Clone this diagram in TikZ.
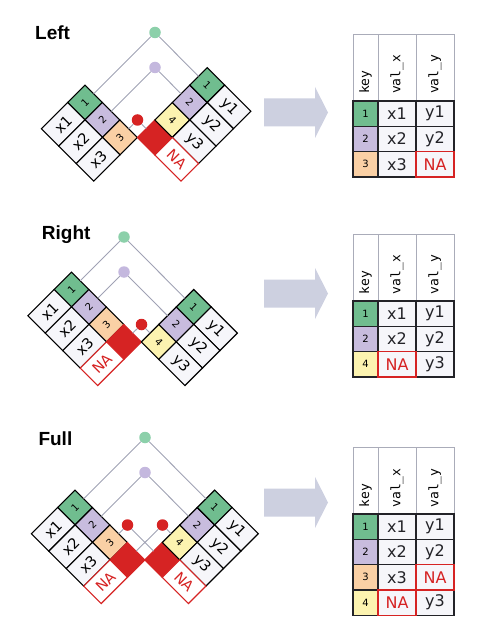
\documentclass[tikz,border=0pt]{standalone}
\usepackage{fontspec}
\setmainfont{DejaVu Sans}
\newfontfamily\labelfont{Liberation Sans}
\newfontfamily\headfont{DejaVu Sans Mono}
\usetikzlibrary{positioning}

\definecolor{kgreen}{RGB}{112,189,143}
\definecolor{kpurple}{RGB}{200,188,222}
\definecolor{korange}{RGB}{250,208,165}
\definecolor{kyellow}{RGB}{252,243,176}
\definecolor{nared}{RGB}{214,35,35}
\definecolor{dgreen}{RGB}{140,208,170}
\definecolor{dpurple}{RGB}{196,184,222}
\definecolor{linkgray}{RGB}{160,162,180}
\definecolor{arrowgray}{RGB}{205,208,224}
\definecolor{valfill}{RGB}{246,246,250}
\definecolor{headgray}{RGB}{170,172,185}
\definecolor{tabline}{RGB}{35,35,40}

\tikzset{
  cell/.style={draw=black, line width=1.1pt, inner sep=0pt, outer sep=0pt, fill=valfill},
  keysize/.style={minimum width=24.7pt, minimum height=24.7pt, font=\fontsize{10}{10}\selectfont},
  valsize/.style={minimum width=37pt, minimum height=24.7pt, font=\fontsize{14.5}{14.5}\selectfont},
  kcell/.style={cell, keysize, rotate=45},
  rkcell/.style={cell, keysize, rotate=-45},
  xcell/.style={cell, valsize, rotate=45},
  ycell/.style={cell, valsize, rotate=-45},
  nakey/.style={fill=nared, draw=nared},
  naval/.style={draw=nared, text=nared, fill=white},
  joindot/.style={circle, inner sep=0pt, minimum size=11.5pt},
  link/.style={draw=linkgray, line width=0.9pt},
  paneltitle/.style={font=\labelfont\bfseries\fontsize{19}{19}\selectfont, anchor=base west, inner sep=0pt},
  hcell/.style={draw=headgray, line width=0.9pt, fill=white, rotate=90, text width=53pt, inner xsep=7pt, inner ysep=0pt, outer sep=0pt, align=left, font=\headfont\fontsize{13}{13}\selectfont},
  tkey/.style={draw=tabline, line width=1.4pt, minimum width=25pt, minimum height=25.3pt, inner sep=0pt, outer sep=0pt, font=\fontsize{10}{10}\selectfont},
  tval/.style={tkey, minimum width=38pt, fill=valfill, font=\fontsize{16}{16}\selectfont},
  naline/.style={draw=nared, line width=1.4pt},
  bigarrow/.style={fill=arrowgray}
}

\begin{document}
\begin{tikzpicture}[x=1pt,y=-1pt]
\useasboundingbox (0,0) rectangle (497,631);

% ---- Left join
\node[paneltitle] (lab-a) at (35,40) {Left};
\node[kcell, fill=kgreen] (a-lk1) at (85,102.5) {1};
\node[kcell, fill=kpurple, anchor=north] (a-lk2) at (a-lk1.south) {2};
\node[kcell, fill=korange, anchor=north] (a-lk3) at (a-lk2.south) {3};
\node[xcell, anchor=east] (a-lx1) at (a-lk1.west) {x1};
\node[xcell, anchor=east] (a-lx2) at (a-lk2.west) {x2};
\node[xcell, anchor=east] (a-lx3) at (a-lk3.west) {x3};
\node[rkcell, nakey, anchor=south west] (a-rkna) at (a-lk3.south east) {};
\node[rkcell, fill=kyellow, anchor=south] (a-rk4) at (a-rkna.north) {4};
\node[rkcell, fill=kpurple, anchor=south] (a-rk2) at (a-rk4.north) {2};
\node[rkcell, fill=kgreen, anchor=south] (a-rk1) at (a-rk2.north) {1};
\node[ycell, anchor=west] (a-ry1) at (a-rk1.east) {y1};
\node[ycell, anchor=west] (a-ry2) at (a-rk2.east) {y2};
\node[ycell, anchor=west] (a-ry3) at (a-rk4.east) {y3};
\node[ycell, naval, anchor=west] (a-rna) at (a-rkna.east) {NA};
\node[joindot, fill=dgreen] (a-gd) at (155,32.5) {};
\node[joindot, fill=dpurple] (a-pd) at (155,67.5) {};
\node[joindot, fill=nared] (a-rd) at (137.5,120) {};
\draw[link] (a-gd) -- (a-lk1.east);
\draw[link] (a-gd) -- (a-rk1.west);
\draw[link] (a-pd) -- (a-lk2.east);
\draw[link] (a-pd) -- (a-rk2.west);
\draw[link] (a-rd) -- (a-lk3.east);
\draw[link] (a-rd) -- (a-rkna.west);

% ---- Right join
\node[paneltitle] (lab-b) at (41.7,239) {Right};
\node[kcell, fill=kgreen] (b-lk1) at (71.5,289.5) {1};
\node[kcell, fill=kpurple, anchor=north] (b-lk2) at (b-lk1.south) {2};
\node[kcell, fill=korange, anchor=north] (b-lk3) at (b-lk2.south) {3};
\node[kcell, nakey, anchor=north] (b-lkna) at (b-lk3.south) {};
\node[xcell, anchor=east] (b-lx1) at (b-lk1.west) {x1};
\node[xcell, anchor=east] (b-lx2) at (b-lk2.west) {x2};
\node[xcell, anchor=east] (b-lx3) at (b-lk3.west) {x3};
\node[xcell, naval, anchor=east] (b-lna) at (b-lkna.west) {NA};
\node[rkcell, fill=kyellow, anchor=south west] (b-rk4) at (b-lkna.south east) {4};
\node[rkcell, fill=kpurple, anchor=south] (b-rk2) at (b-rk4.north) {2};
\node[rkcell, fill=kgreen, anchor=south] (b-rk1) at (b-rk2.north) {1};
\node[ycell, anchor=west] (b-ry1) at (b-rk1.east) {y1};
\node[ycell, anchor=west] (b-ry2) at (b-rk2.east) {y2};
\node[ycell, anchor=west] (b-ry3) at (b-rk4.east) {y3};
\node[joindot, fill=dgreen] (b-gd) at (124,237) {};
\node[joindot, fill=dpurple] (b-pd) at (124,272) {};
\node[joindot, fill=nared] (b-rd) at (141.5,324.5) {};
\draw[link] (b-gd) -- (b-lk1.east);
\draw[link] (b-gd) -- (b-rk1.west);
\draw[link] (b-pd) -- (b-lk2.east);
\draw[link] (b-pd) -- (b-rk2.west);
\draw[link] (b-rd) -- (b-lkna.east);
\draw[link] (b-rd) -- (b-rk4.west);

% ---- Full join
\node[paneltitle] (lab-c) at (38.3,445) {Full};
\node[kcell, fill=kgreen] (c-lk1) at (75,507.5) {1};
\node[kcell, fill=kpurple, anchor=north] (c-lk2) at (c-lk1.south) {2};
\node[kcell, fill=korange, anchor=north] (c-lk3) at (c-lk2.south) {3};
\node[kcell, nakey, anchor=north] (c-lkna) at (c-lk3.south) {};
\node[xcell, anchor=east] (c-lx1) at (c-lk1.west) {x1};
\node[xcell, anchor=east] (c-lx2) at (c-lk2.west) {x2};
\node[xcell, anchor=east] (c-lx3) at (c-lk3.west) {x3};
\node[xcell, naval, anchor=east] (c-lna) at (c-lkna.west) {NA};
\node[rkcell, nakey, anchor=south west] (c-rkna) at (c-lkna.south east) {};
\node[rkcell, fill=kyellow, anchor=south] (c-rk4) at (c-rkna.north) {4};
\node[rkcell, fill=kpurple, anchor=south] (c-rk2) at (c-rk4.north) {2};
\node[rkcell, fill=kgreen, anchor=south] (c-rk1) at (c-rk2.north) {1};
\node[ycell, anchor=west] (c-ry1) at (c-rk1.east) {y1};
\node[ycell, anchor=west] (c-ry2) at (c-rk2.east) {y2};
\node[ycell, anchor=west] (c-ry3) at (c-rk4.east) {y3};
\node[ycell, naval, anchor=west] (c-rna) at (c-rkna.east) {NA};
\node[joindot, fill=dgreen] (c-gd) at (145,437.5) {};
\node[joindot, fill=dpurple] (c-pd) at (145,472.5) {};
\node[joindot, fill=nared] (c-rd1) at (127.5,525) {};
\node[joindot, fill=nared] (c-rd2) at (162.5,525) {};
\draw[link] (c-gd) -- (c-lk1.east);
\draw[link] (c-gd) -- (c-rk1.west);
\draw[link] (c-pd) -- (c-lk2.east);
\draw[link] (c-pd) -- (c-rk2.west);
\draw[link] (c-rd1) -- (c-lk3.east);
\draw[link] (c-rd1) -- (c-rkna.west);
\draw[link] (c-rd2) -- (c-lkna.east);
\draw[link] (c-rd2) -- (c-rk4.west);

% arrows
\foreach \ay in {112.5,293.5,502.5}
  \fill[bigarrow] (264,\ay-14) -- (315,\ay-14) -- (315,\ay-25.5) -- (328,\ay)
    -- (315,\ay+25.5) -- (315,\ay+14) -- (264,\ay+14) -- cycle;

% ---- result tables
\node[hcell, minimum height=25pt] (ta-h1) at (365.5,67.5) {key};
\node[hcell, minimum height=38pt] (ta-h2) at (397,67.5) {val\_x};
\node[hcell, minimum height=38pt] (ta-h3) at (435,67.5) {val\_y};
\foreach \k/\c/\xv/\xd/\yv/\yd [count=\i] in {1/kgreen/x1/tabline/y1/tabline,
    2/kpurple/x2/tabline/y2/tabline, 3/korange/x3/tabline/NA/nared}{
  \node[tkey, fill=\c] (ta-k\i) at (365.5,88.35+25.3*\i) {\k};
  \node[tval, draw=\xd, text=\xd] (ta-x\i) at (397,88.35+25.3*\i) {\xv};
  \node[tval, draw=\yd, text=\yd] (ta-y\i) at (435,88.35+25.3*\i) {\yv};
}
\draw[naline] (ta-y3.north west) rectangle (ta-y3.south east);

\node[hcell, minimum height=25pt] (tb-h1) at (365.5,267.5) {key};
\node[hcell, minimum height=38pt] (tb-h2) at (397,267.5) {val\_x};
\node[hcell, minimum height=38pt] (tb-h3) at (435,267.5) {val\_y};
\foreach \k/\c/\xv/\xd/\yv/\yd [count=\i] in {1/kgreen/x1/tabline/y1/tabline,
    2/kpurple/x2/tabline/y2/tabline, 4/kyellow/NA/nared/y3/tabline}{
  \node[tkey, fill=\c] (tb-k\i) at (365.5,288.35+25.3*\i) {\k};
  \node[tval, draw=\xd, text=\xd] (tb-x\i) at (397,288.35+25.3*\i) {\xv};
  \node[tval, draw=\yd, text=\yd] (tb-y\i) at (435,288.35+25.3*\i) {\yv};
}
\draw[naline] (tb-x3.north west) rectangle (tb-x3.south east);

\node[hcell, minimum height=25pt] (tc-h1) at (365.5,481) {key};
\node[hcell, minimum height=38pt] (tc-h2) at (397,481) {val\_x};
\node[hcell, minimum height=38pt] (tc-h3) at (435,481) {val\_y};
\foreach \k/\c/\xv/\xd/\yv/\yd [count=\i] in {1/kgreen/x1/tabline/y1/tabline,
    2/kpurple/x2/tabline/y2/tabline, 3/korange/x3/tabline/NA/nared,
    4/kyellow/NA/nared/y3/tabline}{
  \node[tkey, fill=\c] (tc-k\i) at (365.5,501.35+25.3*\i) {\k};
  \node[tval, draw=\xd, text=\xd] (tc-x\i) at (397,501.35+25.3*\i) {\xv};
  \node[tval, draw=\yd, text=\yd] (tc-y\i) at (435,501.35+25.3*\i) {\yv};
}
\draw[naline] (tc-y3.north west) rectangle (tc-y3.south east);
\draw[naline] (tc-x4.north west) rectangle (tc-x4.south east);
\end{tikzpicture}
\end{document}
